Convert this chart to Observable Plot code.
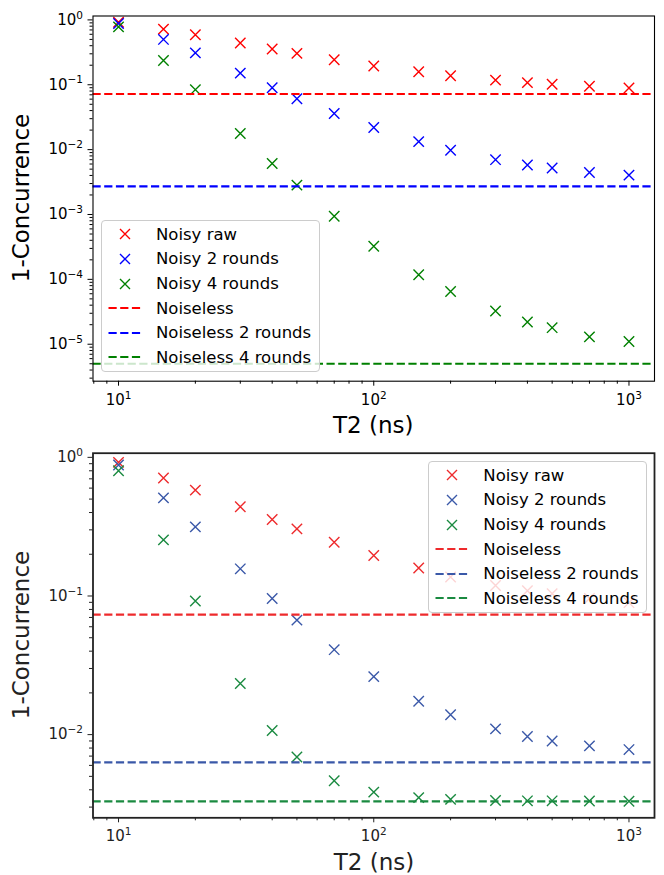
<!DOCTYPE html>
<html><head><meta charset="utf-8">
<script src="https://cdn.jsdelivr.net/npm/d3@7"></script>
<script src="https://cdn.jsdelivr.net/npm/@observablehq/plot@0.6"></script>
<style>
body{margin:0;background:#fff;}
#wrap{position:relative;width:664px;height:875px;font-family:"DejaVu Sans",sans-serif;overflow:hidden;}
.panel{position:absolute;left:0;}
.panel svg{display:block;}
.legend{position:absolute;background:rgba(255,255,255,0.8);border:1px solid #cccccc;border-radius:4px;box-sizing:border-box;}
.legend .row{position:absolute;left:0;height:24px;display:flex;align-items:center;font-size:16.5px;white-space:nowrap;}
.legend .row svg{display:block;}
.ylab{position:absolute;font-size:23px;line-height:1;transform:translate(-50%,-50%) rotate(-90deg);white-space:nowrap;}
.xlab{position:absolute;font-size:23px;line-height:1;transform:translate(-50%,0);white-space:nowrap;}
</style></head><body><div id="wrap"></div>
<script>
// ---------- data ----------
const T2 = [10, 15, 20, 30, 40, 50, 70, 100, 150, 200, 300, 400, 500, 700, 1000];
const seriesNames = ["Noisy raw", "Noisy 2 rounds", "Noisy 4 rounds"];
const lineNames = ["Noiseless", "Noiseless 2 rounds", "Noiseless 4 rounds"];

// top panel
const topRaw = [0.92, 0.72, 0.59, 0.44, 0.355, 0.305, 0.243, 0.195, 0.159, 0.138, 0.118, 0.108, 0.102, 0.095, 0.089];
const topTwo = [0.88, 0.50, 0.31, 0.151, 0.090, 0.061, 0.036, 0.0219, 0.0133, 0.0098, 0.0070, 0.0058, 0.0052, 0.00445, 0.00405];
const topFour = [0.78, 0.237, 0.084, 0.0177, 0.0061, 0.00284, 0.00094, 0.000324, 0.000118, 0.000065, 0.0000325, 0.000022, 0.000018, 0.000013, 0.000011];
const topNoiseless = [0.072, 0.00272, 0.000005];

// bottom panel
const botRaw = [0.92, 0.71, 0.58, 0.44, 0.356, 0.305, 0.244, 0.196, 0.159, 0.137, 0.119, 0.109, 0.104, 0.096, 0.0895];
const botTwo = [0.88, 0.51, 0.315, 0.157, 0.096, 0.067, 0.041, 0.0262, 0.0174, 0.0139, 0.0110, 0.0097, 0.0090, 0.0083, 0.0078];
const botFour = [0.80, 0.254, 0.092, 0.0234, 0.0107, 0.0069, 0.00465, 0.00385, 0.00351, 0.00341, 0.00335, 0.00333, 0.00333, 0.00332, 0.00331];
const botNoiseless = [0.0733, 0.0063, 0.0033];

// ticks
const xTicks = [10, 100, 1000];
const xTickLabels = ["10¹", "10²", "10³"];
const xMinorTicks = [8, 9, 20, 30, 40, 50, 60, 70, 80, 90, 200, 300, 400, 500, 600, 700, 800, 900];
const topYTicks = [1, 0.1, 0.01, 0.001, 0.0001, 0.00001];
const topYTickLabels = ["10⁰", "10⁻¹", "10⁻²", "10⁻³", "10⁻⁴", "10⁻⁵"];
const botYTicks = [1, 0.1, 0.01];
const botYTickLabels = ["10⁰", "10⁻¹", "10⁻²"];
const xLabel = "T2 (ns)";
const yLabel = "1-Concurrence";

const topColors = ["#ff0000", "#0000ff", "#008000"];
const botColors = ["#ee2a2c", "#3a58a8", "#1a8a40"];

// ---------- helpers ----------
function minorTicks(lo, hi) {
  const out = [];
  for (let e = Math.floor(Math.log10(lo)) - 1; e <= Math.ceil(Math.log10(hi)); e++) {
    for (let m = 2; m <= 9; m++) {
      const v = +(m * Math.pow(10, e)).toPrecision(6);
      if (v >= lo && v <= hi) out.push(v);
    }
  }
  return out;
}

const xDomain = [Math.pow(10, 0.9), Math.pow(10, 3.1)];
const xLabelMap = new Map(xTicks.map((t, i) => [t, xTickLabels[i]]));
const supMap = {"⁰":"0","¹":"1","²":"2","³":"3","⁴":"4","⁵":"5","⁶":"6","⁷":"7","⁸":"8","⁹":"9","⁻":"−"};

function superscripts(svg) {
  svg.querySelectorAll("text").forEach(t => {
    const m = /^10([⁰¹²³⁴⁵⁶⁷⁸⁹⁻]+)$/.exec(t.textContent);
    if (!m) return;
    const exp = [...m[1]].map(c => supMap[c]).join("");
    t.textContent = "10";
    const ts = document.createElementNS("http://www.w3.org/2000/svg", "tspan");
    ts.setAttribute("font-size", "10.5px");
    ts.setAttribute("dy", "-6.2");
    ts.textContent = exp;
    t.appendChild(ts);
  });
}

function panel(o) {
  const yLabelMap = new Map(o.yTicks.map((t, i) => [t, o.yTickLabels[i]]));
  const marks = [];
  o.series.forEach((vals, i) => {
    marks.push(Plot.dot(T2.map((t, j) => ({t, v: vals[j]})), {
      x: "t", y: "v", symbol: "times", r: 4.8, stroke: o.colors[i], strokeWidth: 1.4
    }));
  });
  o.noiseless.forEach((v, i) => {
    marks.push(Plot.ruleY([v], {stroke: o.colors[i], strokeWidth: 2.2, strokeDasharray: "8.2,3.5"}));
  });
  marks.push(
    Plot.frame({stroke: o.ink, strokeWidth: o.frameWidth}),
    Plot.axisX({ticks: xTicks, tickFormat: d => xLabelMap.get(d), tickSize: 5, tickPadding: 8, label: null, fontSize: 15, stroke: o.ink, fill: o.ink}),
    Plot.axisX({ticks: xMinorTicks, tickFormat: () => "", tickSize: 3, label: null, stroke: o.ink}),
    Plot.axisY({ticks: o.yTicks, tickFormat: d => yLabelMap.get(d), tickSize: 5, tickPadding: 5, label: null, fontSize: 15, stroke: o.ink, fill: o.ink}),
    Plot.axisY({ticks: minorTicks(o.yDomain[0], o.yDomain[1]), tickFormat: () => "", tickSize: o.minorSize, label: null, stroke: o.ink})
  );
  const svg = Plot.plot({
    width: 664, height: o.height,
    marginLeft: 92.5, marginRight: 10, marginTop: o.marginTop, marginBottom: o.marginBottom,
    x: {type: "log", domain: xDomain},
    y: {type: "log", domain: o.yDomain},
    style: {fontFamily: "DejaVu Sans", fontSize: "15px", color: o.ink, background: "white", overflow: "visible"},
    marks
  });
  superscripts(svg);
  return svg;
}

function legend(left, top, colors) {
  const div = document.createElement("div");
  div.className = "legend";
  div.style.left = left + "px"; div.style.top = top + "px";
  div.style.width = "219px"; div.style.height = "152px";
  const rows = [
    ...seriesNames.map((n, i) => ({n, c: colors[i], kind: "x"})),
    ...lineNames.map((n, i) => ({n, c: colors[i], kind: "line"}))
  ];
  rows.forEach((r, i) => {
    const row = document.createElement("div");
    row.className = "row";
    row.style.top = (13.3 + i * 24.6 - 12) + "px";
    const ns = "http://www.w3.org/2000/svg";
    const svg = document.createElementNS(ns, "svg");
    svg.setAttribute("width", 54); svg.setAttribute("height", 24);
    if (r.kind === "x") {
      const p = document.createElementNS(ns, "path");
      p.setAttribute("d", "M18,7L28,17M18,17L28,7");
      p.setAttribute("stroke", r.c); p.setAttribute("stroke-width", 1.4); p.setAttribute("fill", "none");
      svg.appendChild(p);
    } else {
      const l = document.createElementNS(ns, "line");
      l.setAttribute("x1", 6.5); l.setAttribute("x2", 41); l.setAttribute("y1", 12); l.setAttribute("y2", 12);
      l.setAttribute("stroke", r.c); l.setAttribute("stroke-width", 2.2); l.setAttribute("stroke-dasharray", "8.2,3.5");
      svg.appendChild(l);
    }
    row.appendChild(svg);
    const s = document.createElement("span");
    s.textContent = r.n;
    row.appendChild(s);
    div.appendChild(row);
  });
  return div;
}

function label(cls, text, x, y, color) {
  const d = document.createElement("div");
  d.className = cls; d.textContent = text;
  d.style.left = x + "px"; d.style.top = y + "px"; d.style.color = color;
  return d;
}

// ---------- build ----------
const wrap = document.getElementById("wrap");

const p1 = document.createElement("div"); p1.className = "panel"; p1.style.top = "0px";
p1.appendChild(panel({
  height: 430, marginTop: 15.5, marginBottom: 49.3,
  yDomain: [Math.pow(10, -5.57), Math.pow(10, 0.06)],
  yTicks: topYTicks, yTickLabels: topYTickLabels,
  series: [topRaw, topTwo, topFour], noiseless: topNoiseless,
  colors: topColors, ink: "#000", frameWidth: 1.1, minorSize: 3
}));
wrap.appendChild(p1);

const p2 = document.createElement("div"); p2.className = "panel"; p2.style.top = "430px";
p2.appendChild(panel({
  height: 445, marginTop: 22.7, marginBottom: 57.7,
  yDomain: [Math.pow(10, -2.6), Math.pow(10, 0.03)],
  yTicks: botYTicks, yTickLabels: botYTickLabels,
  series: [botRaw, botTwo, botFour], noiseless: botNoiseless,
  colors: botColors, ink: "#222", frameWidth: 1.8, minorSize: 3.5
}));
wrap.appendChild(p2);

wrap.appendChild(legend(101, 220, topColors));
wrap.appendChild(legend(428.3, 461, botColors));

wrap.appendChild(label("ylab", yLabel, 21, 198, "#000"));
wrap.appendChild(label("ylab", yLabel, 21, 635, "#222"));
wrap.appendChild(label("xlab", xLabel, 373.3, 414, "#000"));
wrap.appendChild(label("xlab", xLabel, 374, 850.5, "#222"));
</script></body></html>
